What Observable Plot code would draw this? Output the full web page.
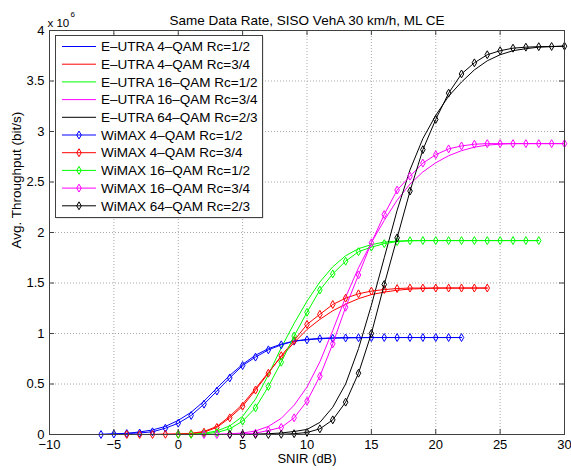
<!DOCTYPE html>
<html><head><meta charset="utf-8">
<script src="https://cdn.jsdelivr.net/npm/d3@7"></script>
<script src="https://cdn.jsdelivr.net/npm/@observablehq/plot@0.6"></script>
<style>
body{margin:0;background:#fff;}
#chart{width:571px;height:470px;}
</style></head><body><div id="chart"></div>
<script>
// ---- data (throughput in units of 10^6 bit/s) ----
const xTicks = [-10, -5, 0, 5, 10, 15, 20, 25, 30];
const yTicks = [0, 0.5, 1, 1.5, 2, 2.5, 3, 3.5, 4];
const titleText = "Same Data Rate, SISO VehA 30 km/h, ML CE";
const xLabel = "SNIR (dB)";
const yLabel = "Avg. Throughput (bit/s)";
const seriesNames = [
  "E–UTRA 4–QAM Rc=1/2", "E–UTRA 4–QAM Rc=3/4", "E–UTRA 16–QAM Rc=1/2",
  "E–UTRA 16–QAM Rc=3/4", "E–UTRA 64–QAM Rc=2/3",
  "WiMAX 4–QAM Rc=1/2", "WiMAX 4–QAM Rc=3/4", "WiMAX 16–QAM Rc=1/2",
  "WiMAX 16–QAM Rc=3/4", "WiMAX 64–QAM Rc=2/3"
];

const snrQ4r12 = [-6,-5,-4,-3,-2,-1,0,1,2,3,4,5,6,7,8,9,10,11,12,13,14,15,16,17,18,19,20,21,22];
const eutraQ4r12 = [0.002,0.006,0.012,0.025,0.045,0.08,0.14,0.22,0.33,0.46,0.585,0.695,0.785,0.85,0.895,0.925,0.942,0.952,0.957,0.96,0.96,0.96,0.96,0.96,0.96,0.96,0.96,0.96,0.96];
const wimaxQ4r12 = [0,0.005,0.01,0.015,0.027,0.062,0.112,0.188,0.30,0.43,0.56,0.683,0.766,0.838,0.888,0.924,0.937,0.948,0.953,0.956,0.958,0.96,0.96,0.96,0.96,0.96,0.96,0.96,0.96];

const snrQ4r34 = [-4,-3,-2,-1,0,1,2,3,4,5,6,7,8,9,10,11,12,13,14,15,16,17,18,19,20,21,22,23,24];
const eutraQ4r34 = [0,0,0.001,0.003,0.006,0.012,0.03,0.08,0.18,0.30,0.455,0.615,0.77,0.91,1.04,1.14,1.225,1.29,1.345,1.385,1.41,1.428,1.44,1.445,1.45,1.45,1.45,1.45,1.45];
const wimaxQ4r34 = [0,0,0,0.002,0.004,0.008,0.023,0.07,0.165,0.28,0.44,0.607,0.78,0.93,1.09,1.19,1.287,1.35,1.393,1.42,1.435,1.445,1.45,1.45,1.45,1.45,1.45,1.45,1.45];

const snrQ16r12 = [0,1,2,3,4,5,6,7,8,9,10,11,12,13,14,15,16,17,18,19,20,21,22,23,24,25,26,27,28];
const eutraQ16r12 = [0.001,0.004,0.012,0.035,0.085,0.18,0.35,0.59,0.86,1.1,1.32,1.51,1.66,1.77,1.84,1.88,1.905,1.915,1.92,1.92,1.92,1.92,1.92,1.92,1.92,1.92,1.92,1.92,1.92];
const wimaxQ16r12 = [0,0.001,0.007,0.02,0.056,0.132,0.264,0.475,0.716,0.975,1.21,1.43,1.59,1.716,1.81,1.855,1.89,1.91,1.918,1.92,1.92,1.92,1.92,1.92,1.92,1.92,1.92,1.92,1.92];

const snrQ16r34 = [2,3,4,5,6,7,8,9,10,11,12,13,14,15,16,17,18,19,20,21,22,23,24,25,26,27,28,29,30];
const eutraQ16r34 = [0.001,0.003,0.007,0.015,0.035,0.08,0.16,0.29,0.47,0.72,1.03,1.36,1.65,1.9,2.12,2.32,2.48,2.60,2.69,2.76,2.81,2.845,2.865,2.875,2.88,2.88,2.88,2.88,2.88];
const wimaxQ16r34 = [0,0,0.002,0.005,0.013,0.04,0.07,0.165,0.33,0.577,0.898,1.26,1.58,1.898,2.178,2.42,2.557,2.687,2.77,2.828,2.857,2.874,2.88,2.88,2.88,2.88,2.88,2.88,2.88];

const snrQ64r23 = [4,5,6,7,8,9,10,11,12,13,14,15,16,17,18,19,20,21,22,23,24,25,26,27,28,29,30];
const eutraQ64r23 = [0.001,0.002,0.004,0.008,0.015,0.03,0.05,0.12,0.27,0.50,0.85,1.28,1.75,2.22,2.62,2.93,3.16,3.35,3.49,3.61,3.70,3.76,3.80,3.82,3.835,3.84,3.845];
const wimaxQ64r23 = [0,0,0,0,0.002,0.008,0.02,0.056,0.145,0.32,0.607,1.0,1.485,1.947,2.41,2.82,3.12,3.38,3.57,3.68,3.76,3.80,3.825,3.835,3.84,3.842,3.845];

// ---- styles ----
const colors = ["#0000ff", "#ff0000", "#00ff00", "#ff00ff", "#000000"];
const snrSets = [snrQ4r12, snrQ4r34, snrQ16r12, snrQ16r34, snrQ64r23];
const eutraSets = [eutraQ4r12, eutraQ4r34, eutraQ16r12, eutraQ16r34, eutraQ64r23];
const wimaxSets = [wimaxQ4r12, wimaxQ4r34, wimaxQ16r12, wimaxQ16r34, wimaxQ64r23];

const toRows = (xs, ys) => xs.map((x, i) => ({x, y: ys[i]}));
const axisColor = "#404040";
const font = "'Liberation Sans', Arial, Helvetica, sans-serif";
const fs = 13.5;
const tfs = 13;
const fmtNum = d => (d < 0 ? "\u2212" + Math.abs(d) : String(d));

const marks = [];
// grid
marks.push(Plot.ruleX(xTicks.slice(1, -1), {x: d => d, stroke: "#a8a8a8", strokeDasharray: "1,2"}));
marks.push(Plot.ruleY(yTicks.slice(1, -1), {y: d => d, stroke: "#a8a8a8", strokeDasharray: "1,2"}));
// E-UTRA lines
eutraSets.forEach((ys, k) => {
  marks.push(Plot.line(toRows(snrSets[k], ys), {x: "x", y: "y", stroke: colors[k], strokeWidth: 1}));
});
// WiMAX lines + diamonds
wimaxSets.forEach((ys, k) => {
  const rows = toRows(snrSets[k], ys);
  marks.push(Plot.line(rows, {x: "x", y: "y", stroke: colors[k], strokeWidth: 1}));
  marks.push(Plot.dot(rows, {x: "x", y: "y", symbol: "diamond", r: 2.4, stroke: colors[k], fill: "none", strokeWidth: 1}));
});
// frame + inward ticks
marks.push(Plot.frame({stroke: axisColor}));
marks.push(Plot.ruleX(xTicks, {x: d => d, y1: yTicks[0], y2: yTicks[0], insetBottom: 5, stroke: axisColor}));
marks.push(Plot.ruleX(xTicks, {x: d => d, y1: yTicks[yTicks.length-1], y2: yTicks[yTicks.length-1], insetTop: 5, stroke: axisColor}));
marks.push(Plot.ruleY(yTicks, {y: d => d, x1: xTicks[0], x2: xTicks[0], insetLeft: 5, stroke: axisColor}));
marks.push(Plot.ruleY(yTicks, {y: d => d, x1: xTicks[xTicks.length-1], x2: xTicks[xTicks.length-1], insetRight: 5, stroke: axisColor}));
// tick labels
marks.push(Plot.axisX(xTicks, {tickSize: 0, tickPadding: 5, tickFormat: fmtNum, fontSize: tfs, label: null}));
marks.push(Plot.axisY(yTicks, {tickSize: 0, tickPadding: 5, tickFormat: fmtNum, fontSize: tfs, label: null}));
// texts
marks.push(Plot.text([titleText], {frameAnchor: "top", dy: -15, fontSize: fs, text: d => d}));
marks.push(Plot.text([xLabel], {frameAnchor: "bottom", dy: 28, fontSize: tfs, text: d => d}));
marks.push(Plot.text([yLabel], {frameAnchor: "left", dx: -33, dy: 16, rotate: -90, fontSize: fs, text: d => d}));
marks.push(Plot.text(["x 10"], {frameAnchor: "top-left", dx: -2, dy: -12, textAnchor: "start", fontSize: 11.5, text: d => d}));
marks.push(Plot.text(["6"], {frameAnchor: "top-left", dx: 21, dy: -19, textAnchor: "start", fontSize: 8, text: d => d}));

const chart = Plot.plot({
  width: 571, height: 470,
  marginLeft: 49, marginRight: 7, marginTop: 30, marginBottom: 36,
  style: {fontFamily: font, fontSize: "13px", background: "#fff", color: "#000"},
  x: {domain: [xTicks[0], xTicks[xTicks.length-1]]},
  y: {domain: [yTicks[0], yTicks[yTicks.length-1]]},
  marks
});
document.getElementById("chart").appendChild(chart);

// ---- legend (drawn into the plot svg) ----
const svg = d3.select(chart);
const lg = svg.append("g").attr("font-family", font).attr("font-size", fs).attr("text-anchor", "start");
const lx = 55, ly = 35, lw = 207, lh = 182, rowH = 17.7;
lg.append("rect").attr("x", lx + 1.5).attr("y", ly + 1.5).attr("width", lw).attr("height", lh).attr("fill", "#d4d4d4");
lg.append("rect").attr("x", lx + 0.5).attr("y", ly + 0.5).attr("width", lw).attr("height", lh).attr("fill", "#fff").attr("stroke", axisColor);
seriesNames.forEach((name, i) => {
  const cy = ly + 11.5 + i * rowH;
  const col = colors[i % 5];
  lg.append("line").attr("x1", lx + 7).attr("x2", lx + 41).attr("y1", cy).attr("y2", cy).attr("stroke", col);
  if (i >= 5) {
    lg.append("path").attr("d", d3.symbol(d3.symbolDiamond, Math.PI * 2.4 * 2.4)())
      .attr("transform", `translate(${lx + 24},${cy})`).attr("fill", "none").attr("stroke", col);
  }
  lg.append("text").attr("x", lx + 46).attr("y", cy).attr("dy", "0.35em").attr("fill", "#000").text(name);
});
</script>
</body></html>
